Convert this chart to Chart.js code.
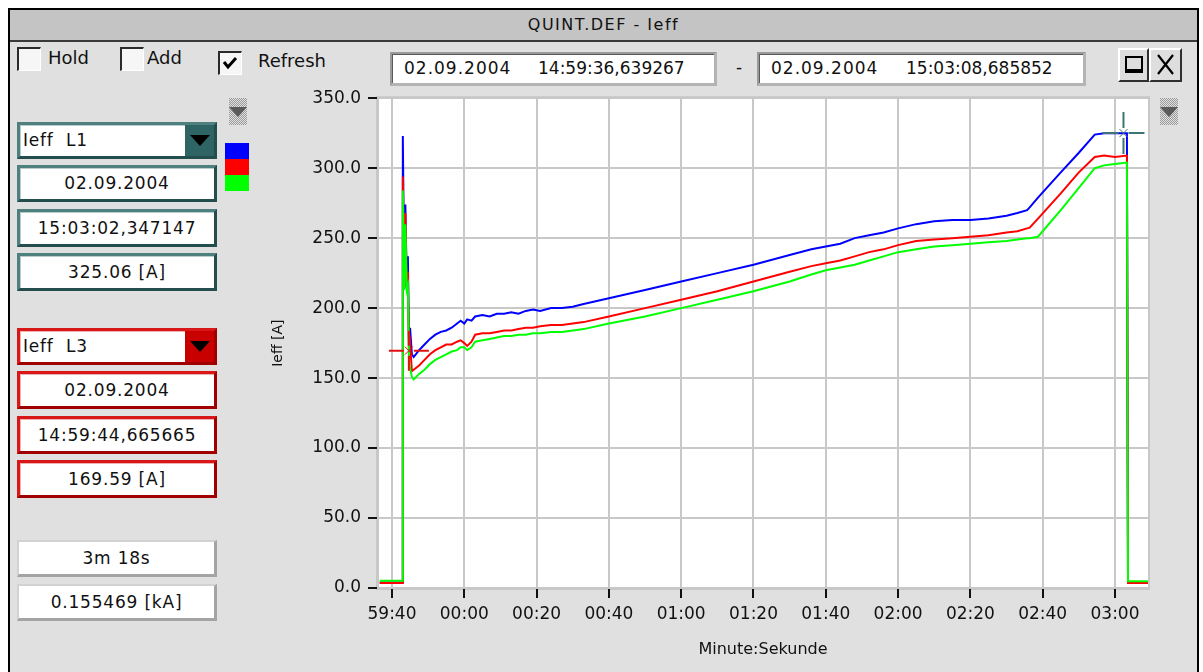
<!doctype html>
<html lang="de">
<head>
<meta charset="utf-8">
<title>QUINT.DEF - Ieff</title>
<script src="https://cdn.jsdelivr.net/npm/chart.js"></script>
<style>
  body { margin: 0; width: 1203px; height: 672px; overflow: hidden; background: #fff; font-family: "DejaVu Sans", sans-serif; color: #111; }
  .abs { position: absolute; box-sizing: border-box; }
  .win { left: 8px; top: 8px; width: 1191px; height: 670px; border: 2px solid #000; border-bottom: none; background: #e0e0e0; }
  .titlebar { left: 10px; top: 10px; width: 1187px; height: 32px; background: #c4c4c4; border-bottom: 2px solid #3a3a3a; text-align: center; font-size: 16px; line-height: 30px; letter-spacing: 1.5px; }
  .cb { width: 24px; height: 24px; background: #f6f6f6; border-top: 2px solid #2a2a2a; border-left: 2px solid #2a2a2a; border-right: 1px solid #fff; border-bottom: 1px solid #fff; }
  .lbl { font-size: 18px; line-height: 24px; white-space: pre; }
  .sunk { background: #fff; border-top: 2px solid #9a9a9a; border-left: 2px solid #9a9a9a; border-bottom: 3px solid #b4b4b4; border-right: 3px solid #b4b4b4; box-shadow: inset 1px 1px 0 #5a5a5a; }
  .txt { font-size: 17px; line-height: 20px; white-space: pre; }
  .btn { background: #dedede; border-top: 2px solid #fff; border-left: 2px solid #fff; border-bottom: 2px solid #303030; border-right: 2px solid #303030; }
  .box { background: #fff; text-align: center; font-size: 17px; white-space: pre; letter-spacing: 0.8px; }
  .teal { border-top: 3px solid #4f8080; border-left: 3px solid #4f8080; border-bottom: 3px solid #244e4e; border-right: 3px solid #244e4e; box-shadow: inset 1px 1px 0 #b8cccc; }
  .red { border-top: 3px solid #d81818; border-left: 3px solid #d81818; border-bottom: 3px solid #a00000; border-right: 3px solid #a00000; box-shadow: inset 1px 1px 0 #f0b0b0; }
  .grey { border-top: 2px solid #d2d2d2; border-left: 2px solid #d2d2d2; border-bottom: 3px solid #a4a4a4; border-right: 3px solid #a4a4a4; }
  .drop { text-align: left; padding-left: 3px; }
  .arrow { position: absolute; right: 0; top: 0; width: 29px; height: 100%; }
  .arrow::after { content: ""; position: absolute; left: 5px; top: 10px; border-left: 10px solid transparent; border-right: 10px solid transparent; border-top: 11px solid #000; }
  #chartWrap { left: 270px; top: 81px; width: 900px; height: 579px; }
  .icon { z-index: 2; }
</style>
</head>
<body>
<div class="abs win"></div>
<div class="abs titlebar">QUINT.DEF - Ieff</div>

<!-- checkboxes -->
<div class="abs cb" style="left:17px; top:47px;"></div>
<div class="abs lbl" style="left:48px; top:46px;">Hold</div>
<div class="abs cb" style="left:120px; top:47px;"></div>
<div class="abs lbl" style="left:147px; top:46px;">Add</div>
<div class="abs cb" style="left:218px; top:51px;">
  <svg width="21" height="21" style="position:absolute;left:0;top:0"><polyline points="4,9 8,14 16,5" fill="none" stroke="#000" stroke-width="3"/></svg>
</div>
<div class="abs lbl" style="left:258px; top:49px;">Refresh</div>

<!-- time range -->
<div class="abs sunk" style="left:390px; top:52px; width:327px; height:34px;"></div>
<div class="abs txt" style="left:404px; top:58px; letter-spacing:1px;">02.09.2004</div>
<div class="abs txt" style="left:538px; top:58px;">14:59:36,639267</div>
<div class="abs txt" style="left:736px; top:57px;">-</div>
<div class="abs sunk" style="left:757px; top:52px; width:329px; height:34px;"></div>
<div class="abs txt" style="left:771px; top:58px; letter-spacing:1px;">02.09.2004</div>
<div class="abs txt" style="left:906px; top:58px;">15:03:08,685852</div>

<!-- window buttons -->
<div class="abs btn" style="left:1118px; top:48px; width:31px; height:34px;">
  <div class="abs" style="left:5px; top:6px; width:18px; height:17px; border:2px solid #000; border-bottom-width:4px;"></div>
</div>
<div class="abs btn" style="left:1149px; top:48px; width:33px; height:34px;">
  <svg width="29" height="30" style="position:absolute;left:0;top:0"><path d="M7 5 L22 24 M22 5 L7 24" stroke="#000" stroke-width="2.2"/></svg>
</div>

<!-- dither arrows -->
<svg class="abs icon" width="22" height="28" style="left:227px; top:98px;">
  <defs><pattern id="chk" width="2" height="2" patternUnits="userSpaceOnUse"><rect width="1" height="1" fill="#9a9a9a"/><rect x="1" y="1" width="1" height="1" fill="#9a9a9a"/></pattern></defs>
  <rect x="2" y="0" width="18" height="27" fill="url(#chk)"/>
  <polygon points="2,9 20,9 11,19" fill="#5a5a5a"/>
</svg>
<svg class="abs icon" width="22" height="28" style="left:1158px; top:98px;">
  <rect x="2" y="0" width="18" height="27" fill="url(#chk)"/>
  <polygon points="2,9 20,9 11,19" fill="#5a5a5a"/>
</svg>

<!-- cursor 1 (teal) -->
<div class="abs box teal drop" style="left:17px; top:122px; width:200px; height:37px; line-height:30px;">Ieff  L1<div class="arrow" style="background:#2e6464;"></div></div>
<div class="abs box teal" style="left:17px; top:165px; width:200px; height:37px; line-height:31px;">02.09.2004</div>
<div class="abs box teal" style="left:17px; top:209px; width:200px; height:38px; line-height:32px;">15:03:02,347147</div>
<div class="abs box teal" style="left:17px; top:253px; width:200px; height:38px; line-height:32px;">325.06 [A]</div>
<div class="abs" style="left:225px; top:143px; width:24px; height:16px; background:#0000ff;"></div>
<div class="abs" style="left:225px; top:159px; width:24px; height:16px; background:#ff0000;"></div>
<div class="abs" style="left:225px; top:175px; width:24px; height:16px; background:#00ff00;"></div>

<!-- cursor 2 (red) -->
<div class="abs box red drop" style="left:17px; top:328px; width:200px; height:37px; line-height:30px;">Ieff  L3<div class="arrow" style="background:#c80000;"></div></div>
<div class="abs box red" style="left:17px; top:371px; width:200px; height:38px; line-height:32px;">02.09.2004</div>
<div class="abs box red" style="left:17px; top:416px; width:200px; height:38px; line-height:32px;">14:59:44,665665</div>
<div class="abs box red" style="left:17px; top:460px; width:200px; height:38px; line-height:32px;">169.59 [A]</div>

<!-- difference -->
<div class="abs box grey" style="left:17px; top:540px; width:200px; height:37px; line-height:32px;">3m 18s</div>
<div class="abs box grey" style="left:17px; top:584px; width:200px; height:37px; line-height:32px;">0.155469 [kA]</div>

<div class="abs" id="chartWrap"><canvas id="ieffChart" width="900" height="579"></canvas></div>

<script>
  // time in seconds relative to 15:00:00 (negative = 14:59:xx)
  const times = [
    -23.4, -17.2, -17.0, -16.6, -16.3, -15.9, -15.6, -15.3, -15.0, -14.5, -14.0,
    -12.5, -11.0, -9.5, -8.0, -6.5, -5.0, -3.5, -2.0, -1.0, 0.0, 0.8, 2.0, 3.0,
    5.0, 7.0, 9.0, 11.0, 13.0, 15.0, 17.0, 19.0, 21.0, 24.0, 27.0, 30.0, 33.0,
    40, 50, 60, 70, 80, 90, 96, 100, 104, 108, 112, 116, 120, 125, 130, 135, 140, 145, 150, 153,
    155.7, 156.4, 158.7, 165, 170, 174.4, 177, 180, 183.3, 183.6, 186, 189.1
  ];
  const ieffL1 = [ // blue
    4.0, 4.0, 323, 215, 274, 214, 237, 172, 186, 167, 165,
    170, 174, 178, 181, 183, 184, 186, 189, 191, 189, 192, 191, 194,
    195, 194, 196, 196, 197, 196, 198, 199, 198, 200, 200, 201, 203,
    207, 213, 219, 225, 231, 238, 242, 244, 246, 250, 252, 254, 257, 260, 262, 263, 263, 264, 266, 268,
    270, 272, 279, 297, 311, 324, 325, 325, 325, 4.0, 4.0, 4.0
  ];
  const ieffL2 = [ // red
    3.5, 3.5, 294, 214, 268, 215, 226, 170, 175, 155, 156,
    159, 163, 167, 170, 172, 174, 174, 176, 177, 175, 173, 176, 181,
    182, 182, 183, 184, 184, 185, 186, 186, 187, 188, 188, 189, 190,
    194, 200, 206, 212, 219, 226, 230, 232, 234, 237, 240, 242, 245, 248, 249, 250, 251, 252, 254, 255,
    257, 257.5, 264, 282, 297, 308, 309, 308, 309, 3.5, 3.5, 3.5
  ];
  const ieffL3 = [ // green
    5.2, 5.2, 284, 213, 260, 213, 216, 162, 157, 151, 149,
    153, 156, 160, 163, 165, 167, 169, 170, 172, 172, 170, 172, 176,
    177, 178, 179, 180, 180, 181, 181, 182, 182, 183, 183, 184, 185,
    189, 194, 200, 206, 212, 219, 224, 227, 229, 231, 234, 237, 240, 242, 244, 245, 246, 247, 248, 249,
    250, 250, 251, 270, 286, 300, 302, 303, 304, 4.8, 4.8, 4.8
  ];
  const xTicks = [-20, 0, 20, 40, 60, 80, 100, 120, 140, 160, 180];
  const yTicks = [0, 50, 100, 150, 200, 250, 300, 350];
  const cursor1 = { t: 182.35, v: 325.06 }; // 15:03:02,347147
  const cursor2 = { t: -15.33, v: 169.59 }; // 14:59:44,665665

  function mmss(v) {
    let s = Math.round(v);
    if (s < 0) s += 3600;
    const m = Math.floor(s / 60) % 60;
    const sec = s % 60;
    return String(m).padStart(2, '0') + ':' + String(sec).padStart(2, '0');
  }

  const pts = vals => times.map((t, i) => ({ x: t, y: vals[i] }));

  // white plot area with light frame
  const plotBg = {
    id: 'plotBg',
    beforeDraw(chart) {
      const { ctx, chartArea: a } = chart;
      ctx.save();
      ctx.fillStyle = '#fff';
      ctx.fillRect(a.left, a.top, a.right - a.left, a.bottom - a.top);
      ctx.strokeStyle = '#c8c8c8';
      ctx.lineWidth = 2;
      ctx.strokeRect(a.left - 1, a.top - 1, a.right - a.left + 2, a.bottom - a.top + 2);
      ctx.restore();
    }
  };

  function drawCursor(ctx, x, y, color, arm) {
    ctx.strokeStyle = color;
    ctx.lineWidth = 2;
    ctx.beginPath();
    ctx.moveTo(x - arm, y); ctx.lineTo(x - 5, y);
    ctx.moveTo(x + 5, y); ctx.lineTo(x + arm, y);
    ctx.moveTo(x, y - arm); ctx.lineTo(x, y - 5);
    ctx.moveTo(x, y + 5); ctx.lineTo(x, y + arm);
    ctx.stroke();
    ctx.lineWidth = 1;
    ctx.beginPath();
    ctx.moveTo(x - 4, y - 4); ctx.lineTo(x + 4, y + 4);
    ctx.moveTo(x + 4, y - 4); ctx.lineTo(x - 4, y + 4);
    ctx.stroke();
  }

  const cursors = {
    id: 'cursors',
    afterDatasetsDraw(chart) {
      const { ctx, scales } = chart;
      ctx.save();
      drawCursor(ctx, scales.x.getPixelForValue(cursor1.t), scales.y.getPixelForValue(cursor1.v), '#3f7474', 21);
      drawCursor(ctx, scales.x.getPixelForValue(cursor2.t), scales.y.getPixelForValue(cursor2.v), '#e01010', 20);
      ctx.restore();
    }
  };

  const tickFont = { family: 'DejaVu Sans', size: 17 };

  new Chart(document.getElementById('ieffChart'), {
    type: 'line',
    data: {
      datasets: [
        { label: 'Ieff L3', data: pts(ieffL3), borderColor: '#00ff00', order: 0 },
        { label: 'Ieff L2', data: pts(ieffL2), borderColor: '#ff0000', order: 1 },
        { label: 'Ieff L1', data: pts(ieffL1), borderColor: '#0000ff', order: 2 }
      ]
    },
    options: {
      responsive: false,
      animation: false,
      devicePixelRatio: 1,
      layout: { padding: { top: 7, right: 22, left: 0, bottom: 0 } },
      elements: { line: { borderWidth: 2, tension: 0 }, point: { radius: 0 } },
      plugins: { legend: { display: false }, tooltip: { enabled: false } },
      scales: {
        x: {
          type: 'linear',
          min: -23.87,
          max: 189.13,
          afterBuildTicks: s => { s.ticks = xTicks.map(v => ({ value: v })); },
          afterFit: s => { s.height = 72; },
          ticks: { callback: v => mmss(v), color: '#111', font: tickFont, padding: 6, maxRotation: 0, autoSkip: false },
          grid: { color: '#c8c8c8', lineWidth: 2, tickColor: '#111', tickWidth: 2, tickLength: 10 },
          border: { color: '#c8c8c8', width: 1 },
          title: { display: true, text: 'Minute:Sekunde', color: '#111', font: { family: 'DejaVu Sans', size: 16 }, padding: { top: 0, bottom: 1 } }
        },
        y: {
          min: 0,
          max: 350,
          afterBuildTicks: s => { s.ticks = yTicks.map(v => ({ value: v })); },
          afterFit: s => { s.width = 108; },
          ticks: { callback: v => v.toFixed(1), color: '#111', font: tickFont, padding: 7 },
          grid: { color: '#c8c8c8', lineWidth: 2, tickColor: '#111', tickWidth: 2, tickLength: 10 },
          border: { color: '#c8c8c8', width: 2 },
          title: { display: true, text: 'Ieff [A]', color: '#111', font: { family: 'DejaVu Sans', size: 14 }, padding: { top: 0, bottom: 0 } }
        }
      }
    },
    plugins: [plotBg, cursors]
  });
</script>
</body>
</html>
